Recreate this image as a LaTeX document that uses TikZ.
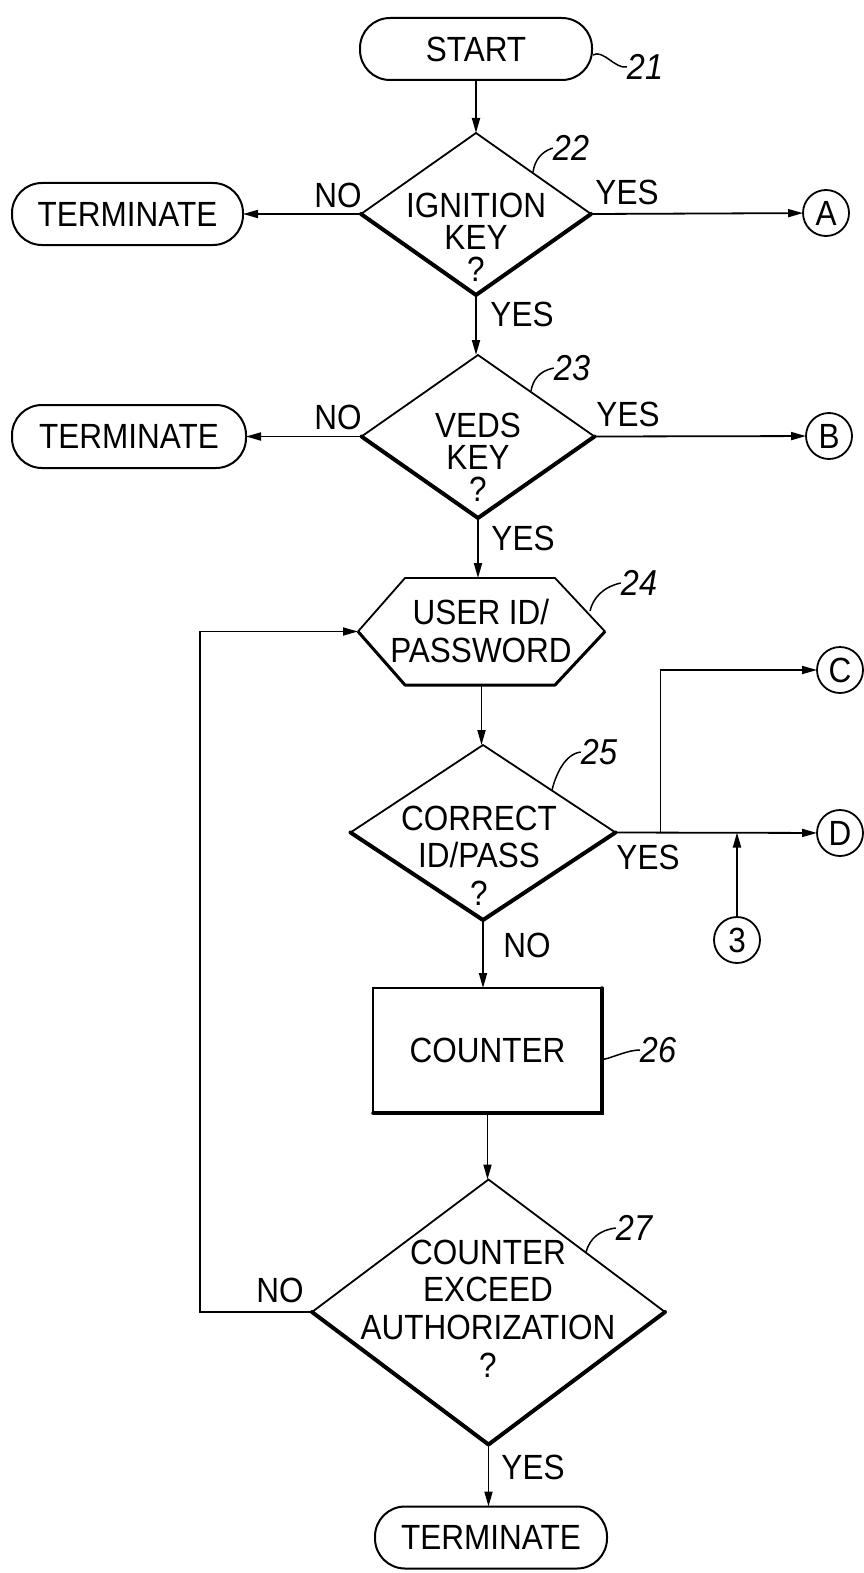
\documentclass[tikz,border=0pt]{standalone}
\usepackage{fontspec}
\setmainfont{Liberation Sans}[FakeStretch=0.9]
\usetikzlibrary{shapes.geometric,arrows.meta,calc}
\tikzset{
  term/.style={draw, line width=2pt, rounded corners=30pt, minimum width=232pt, minimum height=62pt, inner sep=0pt, outer sep=0pt},
  dia/.style={draw, diamond, line width=1.8pt, inner sep=0pt, outer sep=0pt},
  heavy/.style={line width=4pt, line cap=round, line join=round},
  arr/.style={line width=1.8pt, -{Triangle[length=15pt,width=8pt]}},
  plain/.style={line width=1.8pt},
  conn/.style={draw, circle, line width=1.8pt, minimum size=46pt, inner sep=0pt, outer sep=0pt},
  lbl/.style={inner sep=0pt},
  num/.style={font=\fontsize{36}{38}\selectfont\itshape, inner sep=0pt},
  lead/.style={line width=1.5pt},
  txt/.style={align=center, inner sep=0pt},
}
\begin{document}
\begin{tikzpicture}[x=1pt,y=-1pt,font=\fontsize{35}{37}\selectfont]
\useasboundingbox (0,0) rectangle (864,1573);

% terminals
\node[term] (start) at (476,49) {START};
\node[term, minimum width=231pt] (term1) at (127.5,214) {TERMINATE};
\node[term, minimum width=234pt, minimum height=63pt] (term2) at (129,436.5) {TERMINATE};
\node[term] (term3) at (491,1537.5) {TERMINATE};

% decisions
\node[dia, minimum width=230pt, minimum height=162pt] (d22) at (476,214) {};
\node[dia, minimum width=233pt, minimum height=163pt] (d23) at (478,436.5) {};
\node[dia, minimum width=265pt, minimum height=175pt] (d25) at (483,832.5) {};
\node[dia, minimum width=353pt, minimum height=265pt] (d27) at (488.5,1312) {};
\foreach \d in {d22,d23,d25,d27}{
  \draw[heavy] (\d.west) -- (\d.south) -- (\d.east);
}

% hexagon 24
\node[minimum width=247pt, minimum height=107pt, inner sep=0pt, outer sep=0pt] (hex) at (481.5,631.5) {};
\draw[plain, line join=round] (hex.west) -- ($(hex.north west)+(47,0)$) -- ($(hex.north east)+(-50,0)$) -- (hex.east) -- ($(hex.south east)+(-50,0)$) -- ($(hex.south west)+(47,0)$) -- cycle;
\draw[line width=3pt, line join=round] (hex.east) -- ($(hex.south east)+(-50,0)$) -- ($(hex.south west)+(47,0)$) -- (hex.west);

% counter box
\node[draw, line width=1.8pt, minimum width=229pt, minimum height=125pt, inner sep=0pt, outer sep=0pt] (cnt) at (487.5,1050.5) {COUNTER};
\draw[line width=3.5pt, line cap=round] (cnt.north east) -- (cnt.south east) -- (cnt.south west);

% connectors
\node[conn] (cA) at (826,213) {A};
\node[conn] (cB) at (829,436) {B};
\node[conn] (cC) at (840,670) {C};
\node[conn] (cD) at (840,833) {D};
\node[conn] (c3) at (737,940) {3};

% texts in shapes
\node[txt, font=\fontsize{35}{32}\selectfont] (t22) at (476,237) {IGNITION\\KEY\\?};
\node[txt, font=\fontsize{35}{32}\selectfont] (t23) at (478,457.5) {VEDS\\KEY\\?};
\node[txt, font=\fontsize{35}{38}\selectfont] (t24) at (481,631) {USER ID/\\PASSWORD};
\node[txt, font=\fontsize{35}{37.5}\selectfont] (t25) at (479,855.5) {CORRECT\\ID/PASS\\?};
\node[txt, font=\fontsize{35}{37.7}\selectfont] (t27) at (488,1308.5) {COUNTER\\EXCEED\\AUTHORIZATION\\?};

% flow
\draw[arr] (start.south) -- (start.south |- d22.north);
\draw[arr] (d22.south) -- (d22.south |- d23.north);
\draw[arr] (d23.south) -- (d23.south |- hex.north);
\draw[arr] (hex.south) -- (hex.south |- d25.north);
\draw[arr] (d25.south) -- (d25.south |- cnt.north);
\draw[arr] (cnt.south) -- (cnt.south |- d27.north);
\draw[arr] (d27.south) -- (d27.south |- term3.north);
\draw[arr] (d22.west) -- (term1.east);
\draw[arr] (d22.east) -- (cA);
\draw[arr] (d23.west) -- (term2.east);
\draw[arr] (d23.east) -- (cB);
\draw[arr] (d25.east) -- (cD);
\coordinate (br) at ($(d25.east)+(45,0)$);
\draw[arr] (br) |- (cC);
\draw[arr] (c3) -- (c3 |- d25.east);
\coordinate (loop) at (200,0);
\draw[arr] (d27.west) -- (d27.west -| loop) -- (loop |- hex.west) -- (hex.west);

% edge labels
\node[lbl] (n22) at (338,195) {NO};
\node[lbl] (y22r) at (627,192) {YES};
\node[lbl] (y22b) at (522,314) {YES};
\node[lbl] (n23) at (338,417) {NO};
\node[lbl] (y23r) at (628,414) {YES};
\node[lbl] (y23b) at (523,538) {YES};
\node[lbl] (y25) at (648,857) {YES};
\node[lbl] (n25) at (527,945) {NO};
\node[lbl] (n27) at (280,1290) {NO};
\node[lbl] (y27) at (533,1467) {YES};

% reference numerals with leaders
\node[num] (r21) at (645,67) {21};
\draw[lead] ($(start.east)+(1,6)$) .. controls +(10,-6) and +(-12,2) .. (r21.west);
\node[num] (r22) at (571,148) {22};
\draw[lead] (533,172) .. controls (535,160) and (541,152) .. (r22.west);
\node[num] (r23) at (572,368) {23};
\draw[lead] (531,391) .. controls (533,380) and (539,371) .. (r23.west);
\node[num] (r24) at (639,583) {24};
\draw[lead] (590,611) .. controls (593,598) and (603,587) .. (r24.west);
\node[num] (r25) at (599,752) {25};
\draw[lead] (552,790) .. controls (556,774) and (565,754) .. (r25.west);
\node[num] (r26) at (658,1050) {26};
\draw[lead] ($(cnt.east)+(1,9)$) .. controls +(10,-2) and +(-12,0) .. (r26.west);
\node[num] (r27) at (634,1228) {27};
\draw[lead] (586,1252) .. controls (590,1238) and (600,1230) .. (r27.west);
\end{tikzpicture}
\end{document}
